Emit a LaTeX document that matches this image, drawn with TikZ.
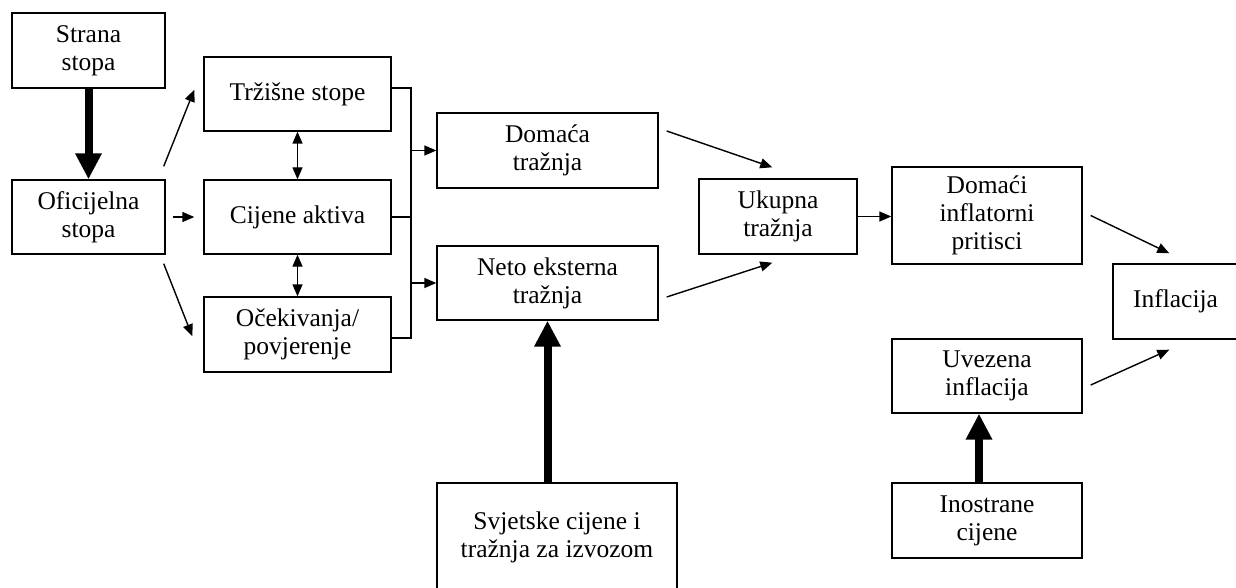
\documentclass[tikz,border=0pt]{standalone}
\usepackage{fontspec}
\setmainfont{Liberation Serif}
\usetikzlibrary{arrows.meta}
\begin{document}
\begin{tikzpicture}[x=1pt,y=-1pt,
  box/.style={draw, line width=1.4pt, inner sep=0pt, align=center,
    font=\fontsize{25.5}{28}\selectfont},
  thin/.style={line width=1.4pt, -{Triangle[width=10pt,length=12pt]}},
  dbl/.style={line width=1.4pt, {Triangle[width=10pt,length=12pt]}-{Triangle[width=10pt,length=12pt]}},
  thick/.style={line width=8pt, -{Triangle[width=25pt,length=26pt]}},
  link/.style={line width=1.4pt}]
\useasboundingbox (0,0) rectangle (1236,588);
\fill[white] (0,0) rectangle (1236,588);
\clip (0,0) rectangle (1236,588);

% boxes
\node[box, minimum width=153pt, minimum height=75pt] (strana) at (88.5,50.5) {Strana\\stopa};
\node[box, minimum width=153pt, minimum height=74pt] (ofic) at (88.5,217) {Oficijelna\\stopa};
\node[box, minimum width=187pt, minimum height=74pt] (trz) at (297.5,94) {Tržišne stope};
\node[box, minimum width=187pt, minimum height=74pt] (cij) at (297.5,217) {Cijene aktiva};
\node[box, minimum width=187pt, minimum height=75pt] (oce) at (297.5,334.5) {Očekivanja/\\povjerenje};
\node[box, minimum width=221pt, minimum height=75pt] (dom) at (547.5,150.5) {Domaća\\tražnja};
\node[box, minimum width=221pt, minimum height=74pt] (neto) at (547.5,283) {Neto eksterna\\tražnja};
\node[box, minimum width=158pt, minimum height=75pt] (uk) at (778,216.5) {Ukupna\\tražnja};
\node[box, minimum width=190pt, minimum height=97pt] (dip) at (987,215.5) {Domaći\\inflatorni\\pritisci};
\node[box, minimum width=125pt, minimum height=75pt] (infl) at (1175.5,301.5) {Inflacija};
\node[box, minimum width=190pt, minimum height=74pt] (uvez) at (987,376) {Uvezena\\inflacija};
\node[box, minimum width=190pt, minimum height=75pt] (inos) at (987,520.5) {Inostrane\\cijene};
\node[box, minimum width=240pt, minimum height=109pt] (svj) at (557,537.5) {Svjetske cijene i\\tražnja za izvozom};

% official rate channels
\draw[thick] (strana.south) -- (ofic.north);
\draw[thin] ([shift={(-2pt,13pt)}]ofic.north east) -- ([shift={(-9pt,42pt)}]trz.south west);
\draw[thin] ([xshift=7pt]ofic.east) -- ([xshift=-9pt]cij.west);
\draw[thin] ([shift={(-2pt,-9pt)}]ofic.south east) -- ([shift={(-11pt,-40pt)}]oce.north west);
\draw[dbl] (trz.south) -- (cij.north);
\draw[dbl] (cij.south) -- (oce.north);

% collecting bus
\coordinate (busT) at (411,88);
\coordinate (busB) at (411,338);
\draw[link] ([yshift=6pt]trz.east) -- (busT) -- (busB) -- ([yshift=-3.5pt]oce.east);
\draw[link] (cij.east) -- (cij.east -| busT);
\draw[thin] (busT |- dom.west) -- (dom.west);
\draw[thin] (busT |- neto.west) -- (neto.west);

% demand
\draw[thin] ([shift={(8pt,19.5pt)}]dom.east) -- ([shift={(74pt,11pt)}]uk.north west);
\draw[thin] ([shift={(8pt,-14pt)}]neto.east) -- ([shift={(74pt,-8pt)}]uk.south west);
\draw[thick] (svj.north -| neto.south) -- (neto.south);
\draw[thin] (uk.east) -- (uk.east -| dip.west);

% inflation
\draw[thin] ([xshift=8pt]dip.east) -- ([shift={(57pt,10pt)}]infl.north west);
\draw[thin] ([shift={(8pt,-9pt)}]uvez.east) -- ([shift={(57pt,-10pt)}]infl.south west);
\draw[thick] ([xshift=-8pt]inos.north) -- ([xshift=-8pt]uvez.south);
\end{tikzpicture}
\end{document}
